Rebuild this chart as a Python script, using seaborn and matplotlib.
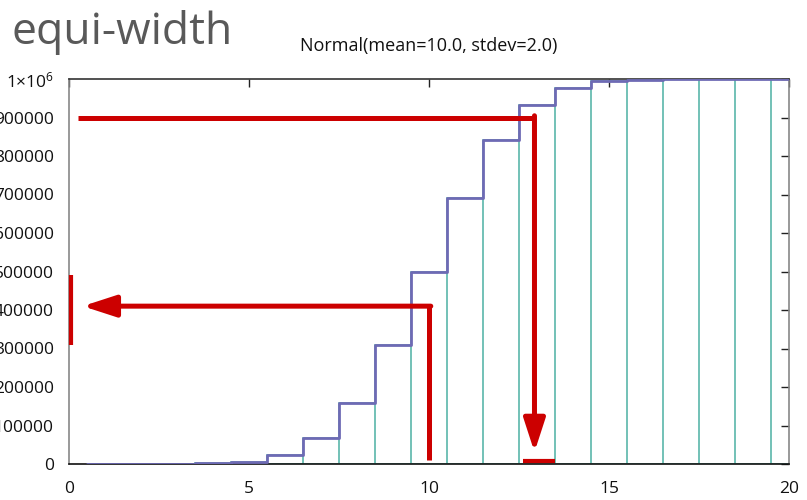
import matplotlib
matplotlib.use("Agg")
import matplotlib.pyplot as plt
import numpy as np
import pandas as pd
import seaborn as sns

# Cumulative counts per bin (bins of width 1 centred on the integers 1..20)
bin_centers = [1, 2, 3, 4, 5, 6, 7, 8, 9, 10,
               11, 12, 13, 14, 15, 16, 17, 18, 19, 20]
cum_counts = [3, 32, 233, 1350, 6210, 22750, 66800, 158700, 308500, 500000,
              691500, 841300, 933200, 977200, 993800, 998650, 999770, 999970, 999997, 1000000]
bin_edges = [c - 0.5 for c in bin_centers] + [bin_centers[-1] + 0.5]

x_ticks = [0, 5, 10, 15, 20]
y_ticks = [0, 100000, 200000, 300000, 400000, 500000, 600000, 700000, 800000, 900000, 1000000]
y_tick_labels = ["0", "100000", "200000", "300000", "400000", "500000",
                 "600000", "700000", "800000", "900000", r"1×10$^{6}$"]

title_text = "Normal(mean=10.0, stdev=2.0)"
heading_text = "equi-width"

# Lookup examples: value -> quantile and quantile -> value
q_level = 900000
q_result = [12.6, 13.5]
v_query = 10.0
v_level = 410000
v_result = [309000, 491000]

sns.set_style("white")
plt.rcParams["font.family"] = ["Open Sans", "DejaVu Sans"]
plt.rcParams["mathtext.fontset"] = "custom"
plt.rcParams["mathtext.rm"] = "Open Sans"
plt.rcParams["mathtext.it"] = "Open Sans"

df = pd.DataFrame({"x": bin_centers, "count": cum_counts})

fig = plt.figure(figsize=(8.07, 5.0), dpi=100)
ax = fig.add_axes([69 / 807, 36 / 500, 720 / 807, 385 / 500])

teal = "#74c2b8"
purple = "#6e6ab4"
red = "#cc0000"

# Bin outlines
sns.histplot(data=df, x="x", weights="count", bins=bin_edges, element="bars",
             fill=False, color=teal, linewidth=1.3, ax=ax, zorder=2)
# Cumulative step curve
sns.histplot(data=df, x="x", weights="count", bins=bin_edges, element="step",
             fill=False, color=purple, linewidth=2.0, ax=ax, zorder=3)

ax.set_xlim(0, 20)
ax.set_ylim(0, 1000000)
ax.set_xlabel("")
ax.set_ylabel("")
ax.set_xticks(x_ticks)
ax.set_xticklabels([str(t) for t in x_ticks])
ax.set_yticks(y_ticks)
ax.set_yticklabels(y_tick_labels)
ax.tick_params(axis="both", direction="in", length=6, width=1.0, color="#222222",
               labelsize=12.5, labelcolor="#111111", top=True, right=True)
ax.tick_params(axis="y", pad=11)
ax.tick_params(axis="x", pad=12)

for side, col in [("bottom", "#111111"), ("top", "#333333"), ("left", "#888888"), ("right", "#888888")]:
    ax.spines[side].set_visible(True)
    ax.spines[side].set_color(col)
    ax.spines[side].set_linewidth(1.2)

ax.set_title(title_text, fontsize=13, color="#111111", pad=20)
fig.text(12 / 807, 1 - 44 / 500, heading_text, fontsize=32, color="#595959",
         ha="left", va="baseline")

lw = 3.6
head = "-|>,head_length=2.0,head_width=0.65"

# Quantile lookup: from the 900000 level across to the curve, then down
ax.plot([0.25, q_result[0] + 0.33], [q_level, q_level], color=red, lw=lw,
        solid_joinstyle="miter", solid_capstyle="butt", zorder=5)
ax.annotate("", xy=(q_result[0] + 0.33, 31000), xytext=(q_result[0] + 0.33, q_level + 4500),
            arrowprops=dict(arrowstyle=head, lw=lw, color=red, shrinkA=0, shrinkB=0),
            zorder=5)
ax.plot(q_result, [7000, 7000], color=red, lw=3.0, solid_capstyle="butt", zorder=5)

# Value lookup: from x=10 up to the curve, then left to the axis
ax.plot([v_query, v_query], [10000, v_level], color=red, lw=lw,
        solid_capstyle="butt", zorder=5)
ax.annotate("", xy=(0.38, v_level), xytext=(v_query + 0.05, v_level),
            arrowprops=dict(arrowstyle=head, lw=lw, color=red, shrinkA=0, shrinkB=0),
            zorder=5)
ax.plot([0.065, 0.065], v_result, color=red, lw=3.0, solid_capstyle="butt",
        zorder=5, clip_on=False)

fig.savefig("out.png", dpi=100)
